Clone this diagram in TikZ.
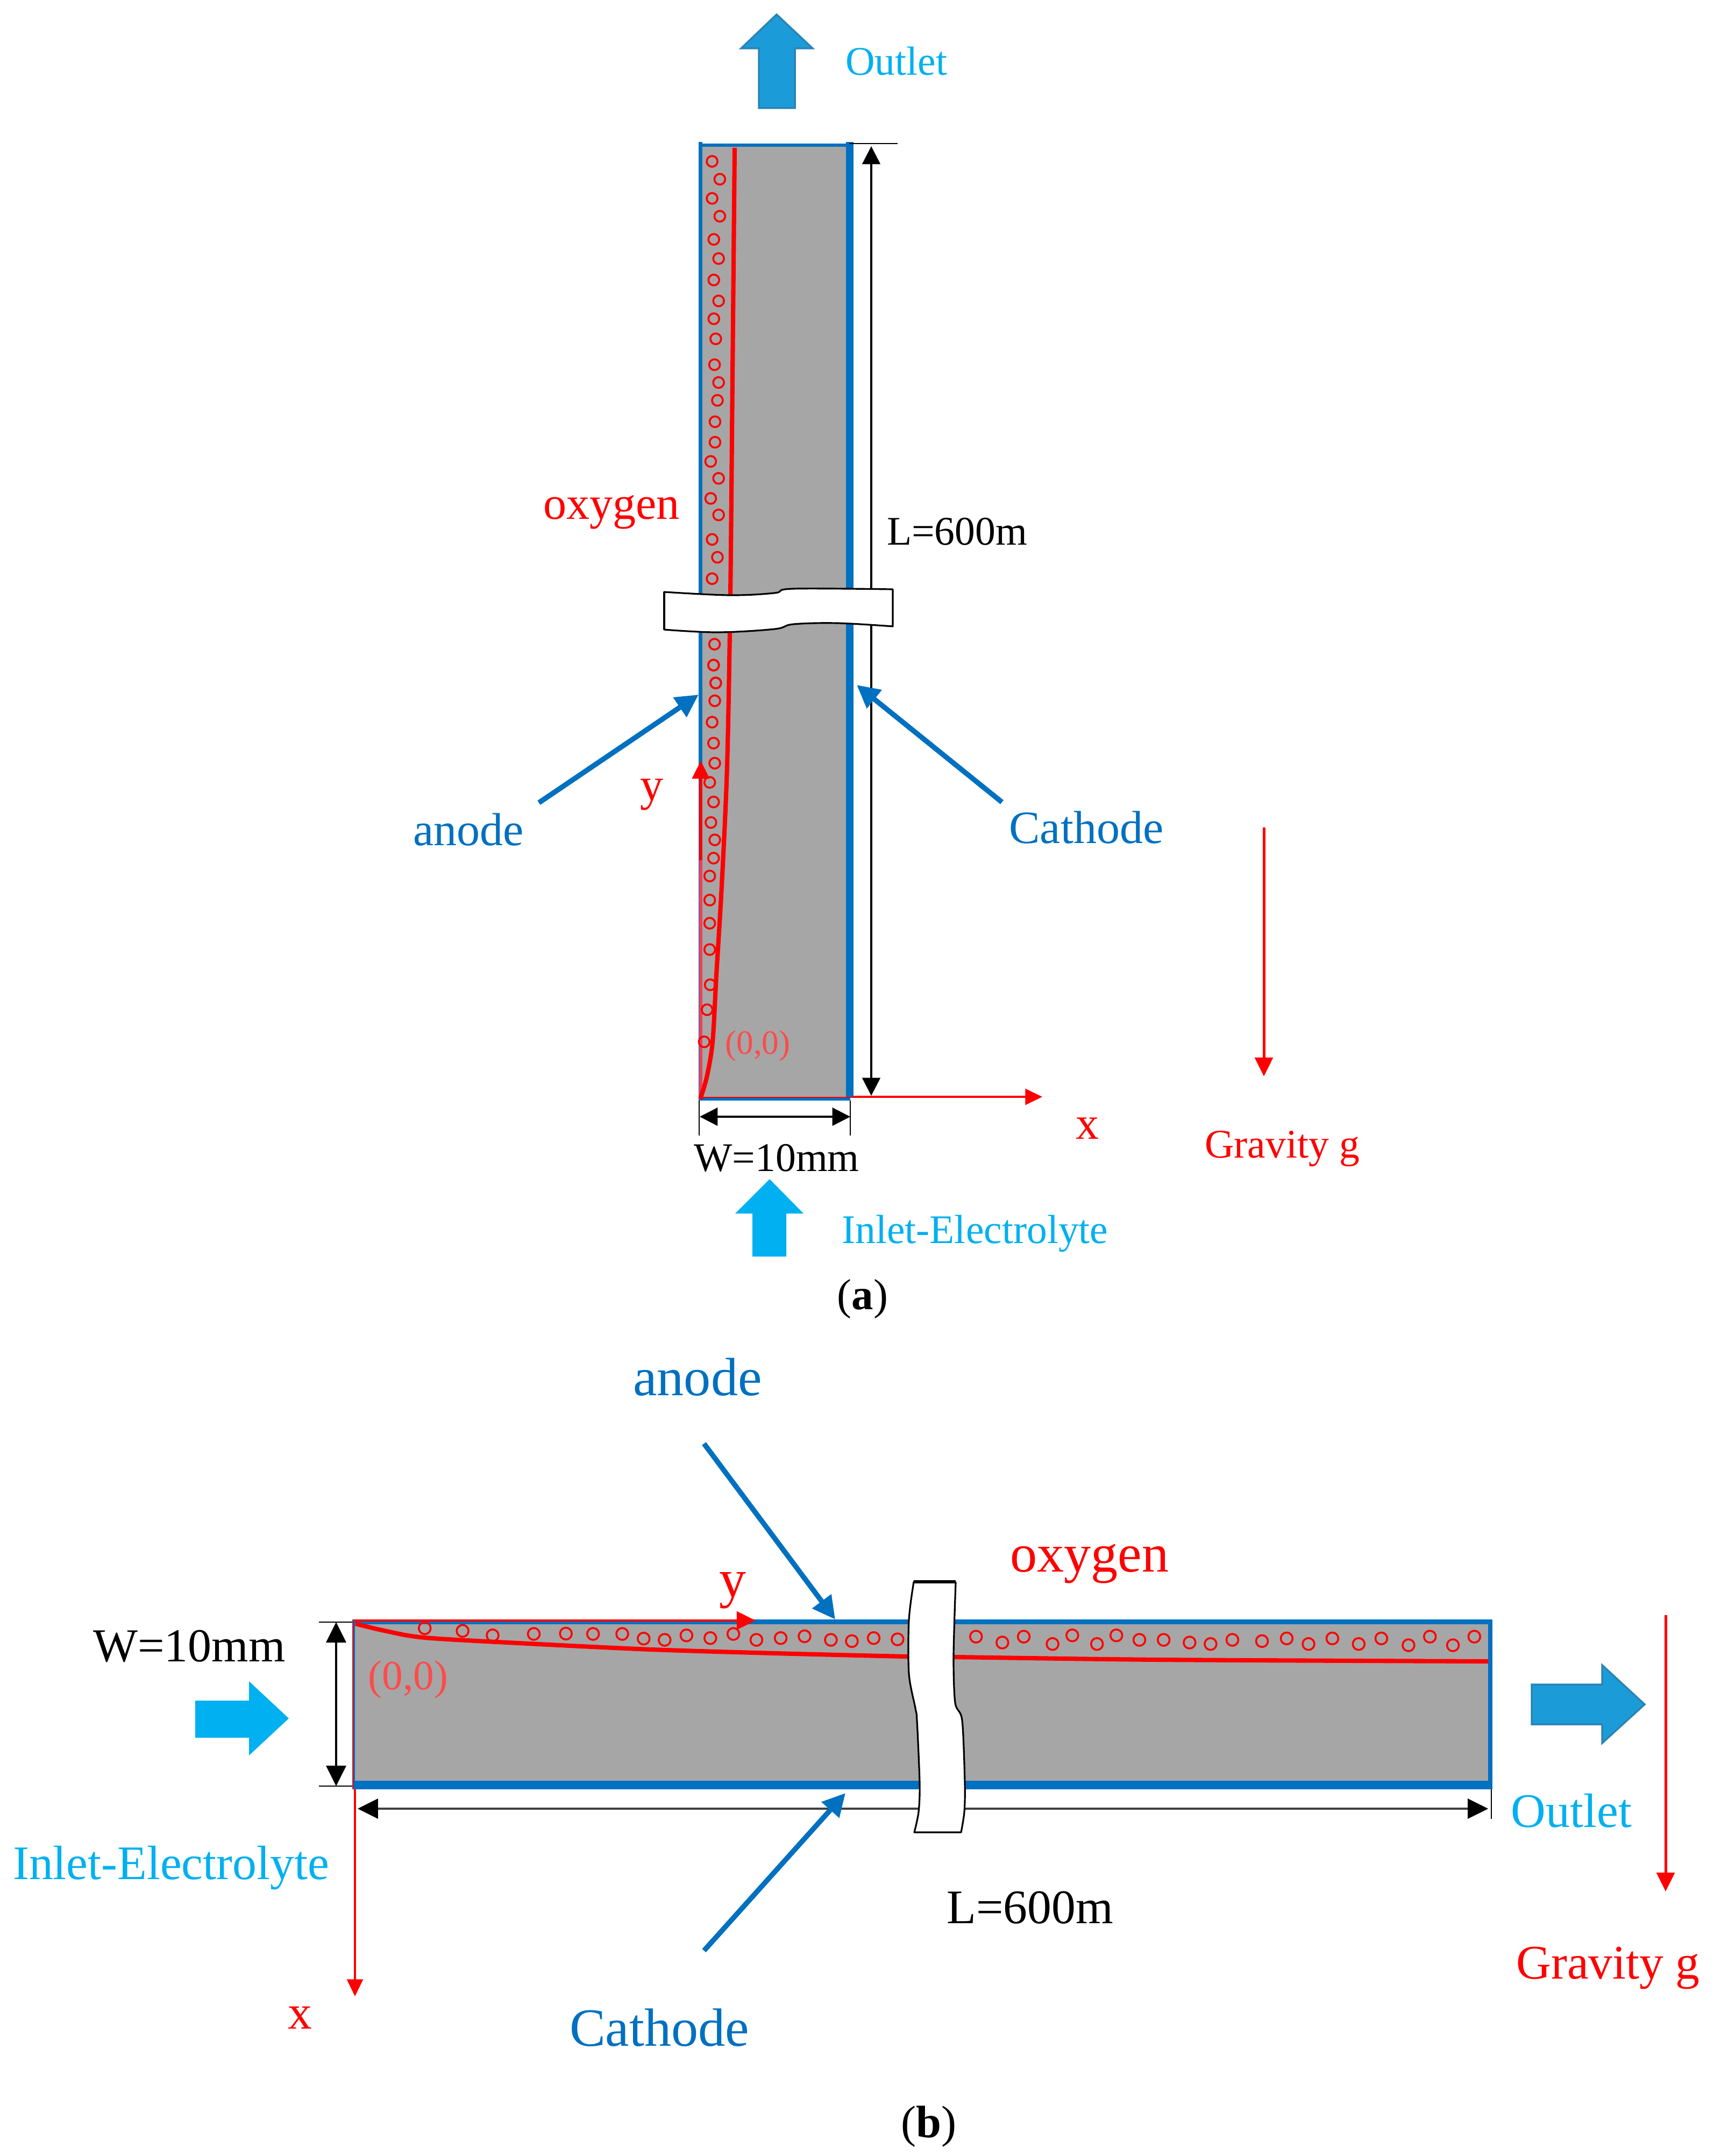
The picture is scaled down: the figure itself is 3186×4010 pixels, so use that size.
\documentclass[tikz,border=0pt]{standalone}
\usepackage{fontspec}
\setmainfont{Liberation Serif}
\usetikzlibrary{arrows.meta}
\definecolor{wallblue}{HTML}{0070C0}
\definecolor{cyanb}{HTML}{00B0F0}
\definecolor{fillgrey}{HTML}{A6A6A6}
\definecolor{outfill}{HTML}{1B9CD8}
\definecolor{outedge}{HTML}{2A84B5}
\definecolor{pinkred}{HTML}{F0405A}
\definecolor{softred}{HTML}{FF4B4B}
\tikzset{
  x=0.01cm,y=-0.01cm,
  lab/.style={inner sep=0pt,outer sep=0pt,anchor=base,font=\fontsize{#1pt}{#1pt}\selectfont},
  wall/.style={fill=wallblue,draw=none},
  chan/.style={fill=fillgrey,draw=none},
  bub/.style={draw=red,line width=1pt,fill=none},
  breaker/.style={draw=black,fill=white,line width=0.9pt,line join=round},
  bluearrow/.style={draw=wallblue,line width=2.7pt,-{Triangle[length=12pt,width=12pt]}},
  dimarrow/.style={draw=black,line width=1pt,{Triangle[length=9.5pt,width=9.5pt]}-{Triangle[length=9.5pt,width=9.5pt]}},
  dimarrowb/.style={draw=black,line width=1pt,{Triangle[length=10.8pt,width=10.5pt]}-{Triangle[length=10.8pt,width=10.5pt]}},
  tick/.style={draw=black,line width=0.8pt},
  redaxis/.style={draw=red,line width=0.9pt,-{Triangle[length=9pt,width=8.5pt]}},
  oxline/.style={draw=red,line width=2.3pt,line join=round},
  gravarrow/.style={draw=red,line width=1.4pt,-{Triangle[length=10pt,width=9.5pt]}},
  outshape/.style={fill=outfill,draw=outedge,line width=1pt},
  inshape/.style={fill=cyanb,draw=none}
}
\begin{document}
\begin{tikzpicture}
\useasboundingbox (0,0) rectangle (3186,4010);
% ---------- panel a ----------
\fill[chan] (1306,273) rectangle (1573,2041);
\fill[wall] (1299,264) rectangle (1306,2047);
\fill[wall] (1573,264) rectangle (1587,2041);
\fill[wall] (1299,267) rectangle (1587,273);
\fill[wall] (1299,2041) rectangle (1581,2047);
\draw[draw=pinkred,line width=1.7pt] (1303,2044) -- (1303,1450);
\foreach \a/\b in {278/362,310/402,278/445,310/485,285/537,305/580,285/628,305/675,285/715,293/760,288/818,305/858,300/898,290/946,290/992,272/1035,305/1073,272/1118,305/1155,278/1210,300/1250,278/1298,288/1445,284/1492,293/1532}
  \draw[bub] ({1200+\a/2.24},{\b/1.206}) circle[radius=10];
\foreach \a/\b in {284/105,293/145,289/185,278/233,284/280,289/325,268/368,284/412,273/458,289/497,284/538,268/578,268/632,268/684,268/743,270/822,257/878,245/950}
  \draw[bub] ({1200+\a/2.24},{1150+\b/1.206}) circle[radius=10];
\draw[oxline] plot[smooth,tension=0.5] coordinates {(1366,275) (1362,700) (1358,1107) (1352,1424) (1342,1647) (1332,1813) (1325,1938) (1314,2004) (1302,2044)};
% axes a
\coordinate (aO) at (1587,2040);
\coordinate (aXe) at (1938,2040);
\coordinate (aYs) at (1303,1600);
\coordinate (aYe) at (1303,1415);
\draw[redaxis] (aO) -- (aXe);
\draw[draw=red,line width=1.7pt,-{Triangle[length=9.5pt,width=9pt]}] (aYs) -- (aYe);
\draw[draw=red,line width=0.7pt] (1299,2041) -- (1587,2041);
% L dim a
\coordinate (aLt) at (1620,272);
\coordinate (aLb) at (1620,2038);
\draw[dimarrow] (aLt) -- (aLb);
\coordinate (aTk1) at (1579,267);
\coordinate (aTk2) at (1669,267);
\draw[tick] (aTk1) -- (aTk2);
% breaker a
\draw[breaker] plot[smooth,tension=0.6] coordinates {(1235,1101) (1356,1107) (1440,1103) (1475,1095) (1660,1096)} -- plot[smooth,tension=0.6] coordinates {(1660,1165) (1557,1159) (1475,1161) (1440,1170) (1334,1176) (1235,1171)} -- cycle;
\draw[draw=black,line width=1.3pt] (1235,1101) -- (1235,1171);
% W dim a
\coordinate (aWl) at (1301,2077);
\coordinate (aWr) at (1581,2077);
\draw[dimarrow] (aWl) -- (aWr);
\coordinate (aT1a) at (1300,2047);
\coordinate (aT1b) at (1300,2112);
\coordinate (aT2a) at (1581,2047);
\coordinate (aT2b) at (1581,2112);
\draw[tick] (aT1a) -- (aT1b);
\draw[tick] (aT2a) -- (aT2b);
% blue arrows a
\coordinate (aAs) at (1002,1493);
\coordinate (aAe) at (1299,1292);
\coordinate (aCs) at (1863,1492);
\coordinate (aCe) at (1593,1274);
\node[lab=24.5,text=wallblue] (aAnode) at (871,1572) {anode};
\node[lab=24.5,text=wallblue] (aCathode) at (2020,1568) {Cathode};
\draw[bluearrow] (aAs) -- (aAe);
\draw[bluearrow] (aCs) -- (aCe);
% flow arrows a
\draw[outshape] (1444,27) -- (1511,90) -- (1478,90) -- (1478,201) -- (1411,201) -- (1411,90) -- (1378,90) -- cycle;
\fill[inshape] (1431,2193) -- (1494,2257) -- (1462,2257) -- (1462,2337) -- (1399,2337) -- (1399,2257) -- (1367,2257) -- cycle;
% gravity a
\coordinate (aGs) at (2350,1539);
\coordinate (aGe) at (2350,2002);
\draw[gravarrow] (aGs) -- (aGe);
% labels a
\node[lab=21.5,text=cyanb,anchor=base west] (aOut) at (1572,140) {Outlet};
\node[lab=21.5,text=cyanb,anchor=base west] (aIn) at (1565,2312) {Inlet-Electrolyte};
\node[lab=21.5] (aW) at (1444,2178) {W=10mm};
\node[lab=21.5,anchor=base west] (aL) at (1649,1014) {L=600m};
\node[lab=24.5,text=red] (aOxy) at (1137,966) {oxygen};
\node[lab=24.5,text=red] (aY) at (1212,1488) {y};
\node[lab=24.5,text=red] (aX) at (2022,2118) {x};
\node[lab=18,text=softred] (aZero) at (1409,1960) {(0,0)};
\node[lab=21.5,text=red] (aGrav) at (2384,2153) {Gravity g};
\node[lab=23] (aCap) at (1604,2435) {(\textbf{a})};
% ---------- panel b ----------
\fill[chan] (660,3021) rectangle (2767,3312);
\fill[wall] (655,3012) rectangle (2775,3021);
\fill[wall] (655,3312) rectangle (2775,3328);
\fill[wall] (655,3012) rectangle (660,3328);
\fill[wall] (2767,3012) rectangle (2775,3328);
\foreach \a/\b in {248/445,340/460,413/485,513/477,591/475,657/477,728/477,780/503,831/510,884/485,942/500,998/477,1054/510,1113/500,1171/490,1235/510,1286/517,1339/500,1397/507}
  \draw[bub] ({600+\a/1.307},{2880+\b/3}) circle[radius=11];
\foreach \a/\b in {150/492,214/525,266/492,336/533,384/485,444/533,491/485,547/510,606/510,669/525,720/533,773/510,845/517,905/502,958/533,1016/502,1080/533,1135/502,1201/540,1253/492,1309/540,1361/492}
  \draw[bub] ({1700+\a/1.307},{2880+\b/3}) circle[radius=11];
\draw[oxline] plot[smooth,tension=0.5] coordinates {(661,3020) (715,3033) (791,3046) (983,3057) (1212,3068) (1442,3075) (1686,3081) (1776,3082) (2159,3087) (2767,3090)};
% axes b
\coordinate (bO) at (657,3014);
\coordinate (bYe) at (1405,3014);
\draw[draw=red,line width=1.4pt,-{Triangle[length=10pt,width=9.5pt]}] (bO) -- (bYe);
\coordinate (bXs) at (660,3328);
\coordinate (bXe) at (660,3713);
\draw[redaxis] (bXs) -- (bXe);
\draw[draw=red,line width=0.7pt] (657,3017) -- (657,3328);
% W dim b
\coordinate (bWt) at (625,3017);
\coordinate (bWb) at (625,3322);
\draw[dimarrowb] (bWt) -- (bWb);
\coordinate (bT1a) at (593,3017);
\coordinate (bT1b) at (655,3017);
\coordinate (bT2a) at (593,3322);
\coordinate (bT2b) at (655,3322);
\draw[tick] (bT1a) -- (bT1b);
\draw[tick] (bT2a) -- (bT2b);
% L dim b
\coordinate (bLl) at (665,3364);
\coordinate (bLr) at (2767,3364);
\draw[dimarrowb,draw=black!75,{Triangle[length=10.8pt,width=10.5pt,black]}-{Triangle[length=10.8pt,width=10.5pt,black]}] (bLl) -- (bLr);
\coordinate (bT3a) at (2773,3328);
\coordinate (bT3b) at (2773,3383);
\draw[tick] (bT3a) -- (bT3b);
% blue arrows b (under the break)
\coordinate (bAs) at (1309,2685);
\coordinate (bAe) at (1553,3012);
\coordinate (bCs) at (1309,3628);
\coordinate (bCe) at (1572,3335);
\draw[bluearrow] (bAs) -- (bAe);
\draw[bluearrow] (bCs) -- (bCe);
% breaker b
\draw[breaker] plot[smooth,tension=0.5] coordinates {(1699,2942) (1690,3013) (1690,3113) (1702,3177) (1705,3200) (1710,3317) (1708,3370) (1700,3408)} -- plot[smooth,tension=0.5] coordinates {(1787,3408) (1793,3370) (1794,3317) (1789,3200) (1776,3167) (1773,3080) (1777,2943)} -- cycle;
\draw[draw=black,line width=1.5pt] (1699,2942) -- (1777,2942);
% flow arrows b
\draw[outshape] (3058,3170) -- (2979,3097) -- (2979,3133) -- (2848,3133) -- (2848,3207) -- (2979,3207) -- (2979,3242) -- cycle;
\fill[inshape] (537,3196) -- (463,3127) -- (463,3163) -- (363,3163) -- (363,3232) -- (463,3232) -- (463,3265) -- cycle;
% gravity b
\coordinate (bGs) at (3097,3004);
\coordinate (bGe) at (3097,3518);
\draw[gravarrow] (bGs) -- (bGe);
% labels b
\node[lab=28.5,text=wallblue] (bAnode) at (1297,2595) {anode};
\node[lab=28.5,text=wallblue] (bCathode) at (1226,3805) {Cathode};
\node[lab=28.5,text=red] (bOxy) at (2026,2923) {oxygen};
\node[lab=28.5,text=red] (bY) at (1363,2970) {y};
\node[lab=22,text=softred] (bZero) at (759,3142) {(0,0)};
\node[lab=25] (bW) at (352,3090) {W=10mm};
\node[lab=25.5,text=cyanb] (bIn) at (318,3495) {Inlet-Electrolyte};
\node[lab=25.5] (bL) at (1915,3577) {L=600m};
\node[lab=25.5,text=cyanb] (bOut) at (2922,3398) {Outlet};
\node[lab=25.5,text=red] (bGrav) at (2990,3680) {Gravity g};
\node[lab=25.5,text=red] (bX) at (558,3773) {x};
\node[lab=24] (bCap) at (1727,3975) {(\textbf{b})};
\end{tikzpicture}
\end{document}
